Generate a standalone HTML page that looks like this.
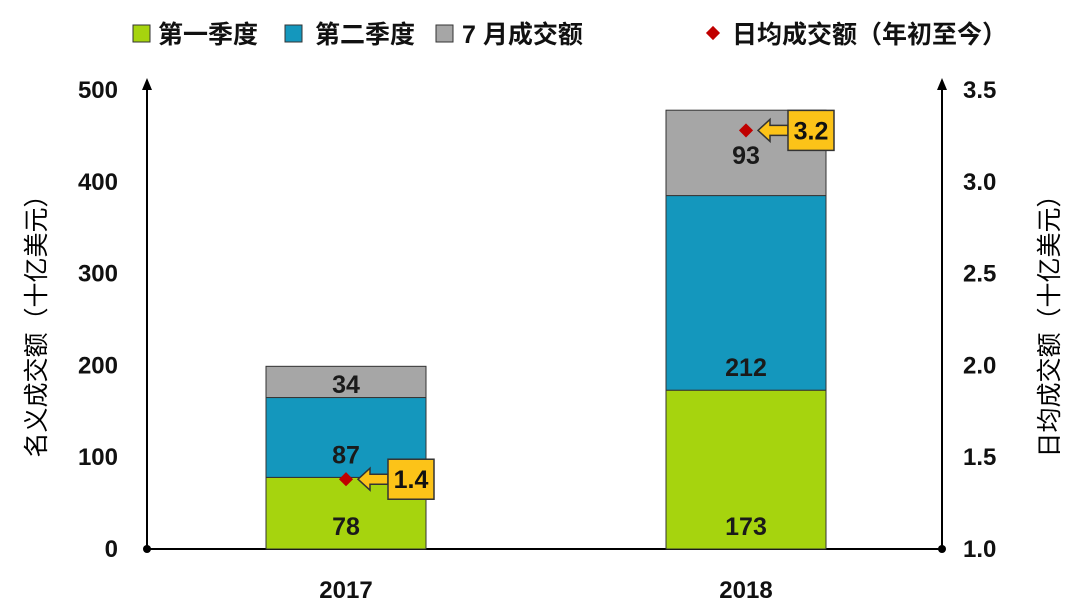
<!DOCTYPE html>
<html><head><meta charset="utf-8"><style>
html,body{margin:0;padding:0;background:#fff}
svg{display:block;font-family:"Liberation Sans","Noto Sans CJK SC",sans-serif}
</style></head><body>
<svg id="chart" width="1080" height="614" viewBox="0 0 1080 614">
<g font-size="25" font-weight="bold" fill="#111">
<rect x="133" y="25" width="17" height="17" fill="#a6d40e" stroke="#333"/>
<text x="158" y="43">第一季度</text>
<rect x="285" y="25" width="17" height="17" fill="#1497bd" stroke="#333"/>
<text x="315" y="43">第二季度</text>
<rect x="436" y="25" width="17" height="17" fill="#a6a6a6" stroke="#333"/>
<text x="462" y="43">7 月成交额</text>
<rect x="708" y="28" width="10" height="10" fill="#c00000" transform="rotate(45 713 33)"/>
<text x="732" y="43">日均成交额（年初至今）</text>
</g>
<g id="plot"></g>
</svg>
<script>
const categories=["2017","2018"];
const q1=[78,173];
const q2=[87,212];
const july=[34,93];
const daily=[1.38,3.28];
const dailyLabels=["1.4","3.2"];
const leftTicks=[0,100,200,300,400,500];
const rightTicks=["1.0","1.5","2.0","2.5","3.0","3.5"];
const NS="http://www.w3.org/2000/svg";
const g=document.getElementById("plot");
const y0=549,yTop=90;
const yL=v=>y0-(v/500)*(y0-yTop);
const yR=v=>y0-((v-1)/2.5)*(y0-yTop);
const xC=i=>346+i*400;
function mk(t,a,p){const e=document.createElementNS(NS,t);for(const k in a)e.setAttribute(k,a[k]);(p||g).appendChild(e);return e;}
let e;
e=mk("line",{x1:147,y1:y0,x2:147,y2:82,stroke:"#000","stroke-width":2});


e=mk("polygon",{points:"142,90 147,78 152,90",fill:"#000"});


e=mk("line",{x1:942,y1:y0,x2:942,y2:82,stroke:"#000","stroke-width":2});


e=mk("polygon",{points:"937,90 942,78 947,90",fill:"#000"});


e=mk("line",{x1:147,y1:y0,x2:942,y2:y0,stroke:"#000","stroke-width":2});


e=mk("circle",{cx:147,cy:y0,r:4,fill:"#000"});


e=mk("circle",{cx:942,cy:y0,r:4,fill:"#000"});


leftTicks.forEach(v=>{const t=mk("text",{x:118,y:yL(v)+8,"text-anchor":"end","font-size":24,"font-weight":"bold",fill:"#111"});t.textContent=v;

});
rightTicks.forEach(v=>{const t=mk("text",{x:963,y:yR(parseFloat(v))+8,"font-size":24,"font-weight":"bold",fill:"#111"});t.textContent=v;

});
e=mk("text",{transform:"translate(45 320) rotate(-90)","text-anchor":"middle","font-size":25,fill:"#000"});e.textContent="名义成交额（十亿美元）";


e=mk("text",{transform:"translate(1058 320) rotate(-90)","text-anchor":"middle","font-size":25,fill:"#000"});e.textContent="日均成交额（十亿美元）";


const series=[[q1,"#a6d40e","q1"],[q2,"#1497bd","q2"],[july,"#a6a6a6","july"]];
categories.forEach((c,i)=>{
 let base=0;const x=xC(i)-80,w=160;
 series.forEach(([arr,col,nm])=>{
  const v=arr[i];const yt=yL(base+v),yb=yL(base);
  const r=mk("rect",{x:x,y:yt,width:w,height:yb-yt,fill:col,stroke:"#333","stroke-width":1});
  
  
  const ly = nm==="july" ? (yt+yb)/2+11 : yb-14;
  const t=mk("text",{x:xC(i),y:ly,"text-anchor":"middle","font-size":25,"font-weight":"bold",fill:"#1a1a1a"});
  t.textContent=v;
  
  
  base+=v;
 });
 const cl=mk("text",{x:xC(i),y:598,"text-anchor":"middle","font-size":24,"font-weight":"bold",fill:"#111"});cl.textContent=c;
 
 
 const dy=yR(daily[i]),dx=xC(i);
 const d=mk("rect",{x:dx-5,y:dy-5,width:10,height:10,fill:"#c00000",transform:"rotate(45 "+dx+" "+dy+")"});
 
 
 const ax=dx+12,bx=dx+42;
 const ar=mk("polygon",{points:`${ax},${dy} ${ax+12},${dy-11} ${ax+12},${dy-5} ${bx},${dy-5} ${bx},${dy+5} ${ax+12},${dy+5} ${ax+12},${dy+11}`,fill:"#fcc318",stroke:"#333","stroke-width":1.5});
 
 
 const bx2=mk("rect",{x:bx,y:dy-20,width:46,height:40,fill:"#fcc318",stroke:"#333","stroke-width":1.5});
 
 
 const ct=mk("text",{x:bx+23,y:dy+9,"text-anchor":"middle","font-size":25,"font-weight":"bold",fill:"#111"});ct.textContent=dailyLabels[i];
 
 
});
</script>
</body></html>
